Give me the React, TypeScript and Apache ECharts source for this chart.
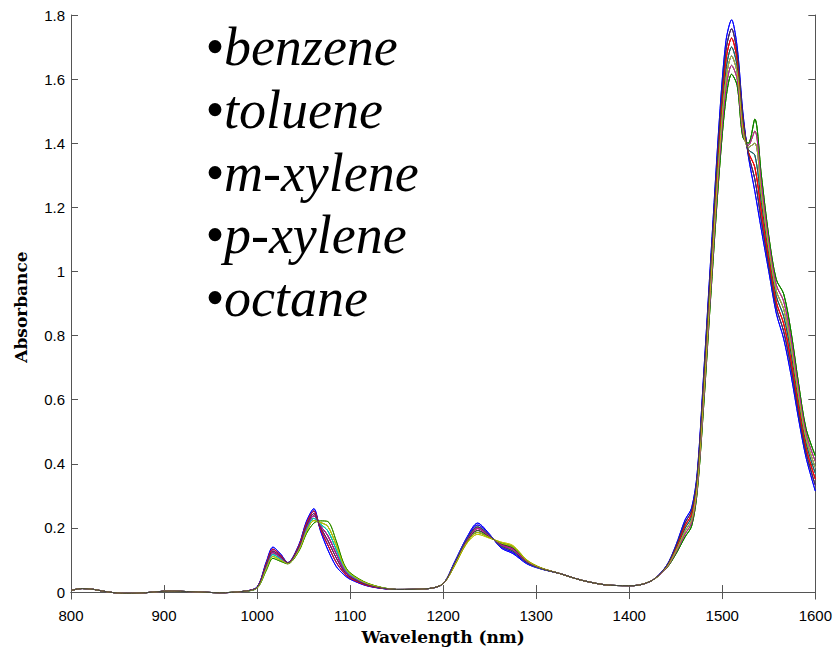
import React, { useEffect, useRef } from "react";
import * as echarts from "echarts";

// Wavelength grid (nm)
const wavelengths = [
  800, 812, 825, 840, 860, 880, 905, 930, 960, 985,
  1000, 1010, 1017, 1025, 1033, 1045, 1053, 1061, 1068, 1076, 1085, 1093, 1100, 1120,
  1150, 1185, 1200,
  1212, 1225, 1237, 1250, 1262, 1275, 1290, 1305,
  1325, 1350, 1380, 1405, 1425,
  1440, 1450, 1460, 1467, 1473, 1480, 1488, 1497, 1504, 1510, 1516, 1522, 1528, 1535,
  1542, 1550, 1558, 1566, 1574, 1582, 1590, 1600,
];

// 800–985 nm: flat baseline shared by all spectra
const baselineStart = [0.005, 0.011, 0.008, 0.0, -0.004, -0.002, 0.003, 0.001, -0.002, 0.002];

// 1000–1120 nm band, read as 7 levels from the highest-peak to the shoulder-type trace
const band1Levels = [
  [0.016, 0.095, 0.14, 0.12, 0.092, 0.148, 0.22, 0.26, 0.192, 0.132, 0.08, 0.055, 0.04, 0.018],
  [0.015, 0.09, 0.134, 0.116, 0.091, 0.145, 0.214, 0.253, 0.197, 0.147, 0.093, 0.061, 0.043, 0.019],
  [0.015, 0.086, 0.128, 0.112, 0.091, 0.141, 0.207, 0.245, 0.202, 0.161, 0.107, 0.067, 0.047, 0.021],
  [0.014, 0.082, 0.123, 0.108, 0.09, 0.138, 0.201, 0.238, 0.207, 0.176, 0.12, 0.073, 0.05, 0.022],
  [0.013, 0.077, 0.117, 0.104, 0.089, 0.135, 0.195, 0.23, 0.212, 0.191, 0.133, 0.078, 0.053, 0.023],
  [0.013, 0.073, 0.111, 0.1, 0.089, 0.131, 0.188, 0.223, 0.217, 0.205, 0.147, 0.084, 0.057, 0.025],
  [0.012, 0.068, 0.105, 0.096, 0.088, 0.128, 0.182, 0.215, 0.222, 0.22, 0.16, 0.09, 0.06, 0.026],
];

// 1150–1200 nm
const bridge1 = [0.008, 0.011, 0.026];

// 1212–1305 nm band
const band2Levels = [
  [0.092, 0.168, 0.215, 0.18, 0.138, 0.12, 0.088, 0.072],
  [0.09, 0.165, 0.209, 0.178, 0.141, 0.124, 0.09, 0.073],
  [0.088, 0.162, 0.203, 0.176, 0.144, 0.128, 0.092, 0.073],
  [0.086, 0.159, 0.198, 0.174, 0.147, 0.133, 0.094, 0.074],
  [0.084, 0.156, 0.192, 0.172, 0.15, 0.137, 0.096, 0.075],
  [0.082, 0.153, 0.186, 0.17, 0.153, 0.141, 0.098, 0.075],
  [0.08, 0.15, 0.18, 0.168, 0.156, 0.145, 0.1, 0.076],
];

// 1325–1425 nm
const bridge2 = [0.058, 0.036, 0.021, 0.02, 0.037];

// 1440–1600 nm band
const band3Levels = [
  [0.082, 0.145, 0.225, 0.262, 0.37, 0.68, 1.06, 1.48, 1.72, 1.785, 1.7, 1.5, 1.36, 1.25, 1.13, 1.0, 0.87, 0.79, 0.675, 0.54, 0.42, 0.315],
  [0.081, 0.141, 0.216, 0.253, 0.36, 0.663, 1.04, 1.453, 1.69, 1.757, 1.68, 1.487, 1.367, 1.288, 1.158, 1.018, 0.888, 0.813, 0.698, 0.558, 0.435, 0.333],
  [0.079, 0.136, 0.207, 0.243, 0.35, 0.647, 1.02, 1.427, 1.66, 1.728, 1.66, 1.473, 1.373, 1.325, 1.187, 1.037, 0.905, 0.837, 0.72, 0.577, 0.45, 0.352],
  [0.078, 0.132, 0.199, 0.234, 0.34, 0.63, 1.0, 1.4, 1.63, 1.7, 1.64, 1.46, 1.38, 1.363, 1.215, 1.055, 0.923, 0.86, 0.743, 0.595, 0.465, 0.37],
  [0.077, 0.127, 0.19, 0.224, 0.33, 0.613, 0.98, 1.373, 1.6, 1.672, 1.62, 1.447, 1.387, 1.4, 1.243, 1.073, 0.94, 0.883, 0.765, 0.613, 0.48, 0.388],
  [0.075, 0.123, 0.181, 0.215, 0.32, 0.597, 0.96, 1.347, 1.57, 1.643, 1.6, 1.433, 1.393, 1.438, 1.272, 1.092, 0.958, 0.907, 0.788, 0.632, 0.495, 0.407],
  [0.074, 0.118, 0.172, 0.205, 0.31, 0.58, 0.94, 1.32, 1.54, 1.615, 1.58, 1.42, 1.4, 1.475, 1.3, 1.11, 0.975, 0.93, 0.81, 0.65, 0.51, 0.425],
];

// Which level each spectrum shows in each band [band1, band2, band3]
const sampleBands = [
  [0, 0, 0], [4, 5, 5], [2, 3, 1], [3, 1, 3], [2, 4, 4], [6, 6, 6], [1, 2, 2],
  [1, 0, 1], [5, 4, 6], [3, 2, 2], [4, 3, 3], [2, 1, 4], [5, 6, 5], [3, 4, 3],
  [0, 1, 0], [6, 5, 6], [1, 3, 2], [4, 2, 4], [3, 3, 5], [5, 5, 4], [2, 2, 1],
];

// MATLAB (classic) colour order
const lineColors = ["#0000FF", "#008000", "#FF0000", "#00BFBF", "#BF00BF", "#BFBF00", "#404040"];

const yTicks = [0, 0.2, 0.4, 0.6, 0.8, 1, 1.2, 1.4, 1.6, 1.8];
const compounds = ["benzene", "toluene", "m-xylene", "p-xylene", "octane"];

export default function App() {
  const ref = useRef<HTMLDivElement>(null);

  useEffect(() => {
    if (!ref.current) return;
    const chart = echarts.init(ref.current, undefined, { renderer: "svg" });

    const series = sampleBands.map((b, k) => {
      const values = [
        ...baselineStart,
        ...band1Levels[b[0]],
        ...bridge1,
        ...band2Levels[b[1]],
        ...bridge2,
        ...band3Levels[b[2]],
      ];
      return {
        type: "line",
        name: "sample " + (k + 1),
        xAxisIndex: 0,
        yAxisIndex: 0,
        data: wavelengths.map((w, i) => [w, values[i]]),
        showSymbol: false,
        smooth: 0.3,
        lineStyle: { width: 1, color: lineColors[k % lineColors.length] },
        itemStyle: { color: lineColors[k % lineColors.length] },
        emphasis: { disabled: true },
        silent: true,
      };
    });

    const axisColor = "#555555";
    const labelStyle = { color: "#000", fontFamily: "Liberation Sans", fontSize: 15 };
    const titleStyle = {
      color: "#000",
      fontFamily: "DejaVu Serif",
      fontWeight: "bold" as const,
      fontSize: 17,
    };

    const graphic = compounds.map((c, i) => ({
      type: "text",
      x: 205,
      y: 47 + i * 62.8,
      style: {
        text: "\u2022" + c,
        align: "left",
        verticalAlign: "middle",
        fontFamily: "Liberation Serif",
        fontStyle: "italic",
        fontSize: 54,
        fill: "#000",
      },
    }));

    chart.setOption({
      animation: false,
      backgroundColor: "#fff",
      grid: { left: 71, right: 19, top: 15, bottom: 48, containLabel: false },
      xAxis: [
        {
          type: "value",
          position: "bottom",
          min: 800,
          max: 1600,
          interval: 100,
          axisLine: { show: true, lineStyle: { color: axisColor, width: 1 } },
          axisTick: { show: true, inside: true, length: 7, lineStyle: { color: axisColor } },
          axisLabel: { ...labelStyle, margin: 9, formatter: (v: number) => String(v) },
          splitLine: { show: false },
          name: "Wavelength (nm)",
          nameLocation: "middle",
          nameGap: 27,
          nameTextStyle: titleStyle,
        },
        {
          type: "value",
          position: "top",
          min: 800,
          max: 1600,
          interval: 100,
          axisLine: { show: true, lineStyle: { color: axisColor, width: 1 } },
          axisTick: { show: true, inside: true, length: 7, lineStyle: { color: axisColor } },
          axisLabel: { show: false },
          splitLine: { show: false },
        },
      ],
      yAxis: [
        {
          type: "value",
          position: "left",
          min: -0.022,
          max: 1.8,
          axisLine: { show: true, lineStyle: { color: axisColor, width: 1 } },
          axisTick: {
            show: true,
            inside: true,
            length: 7,
            customValues: yTicks,
            lineStyle: { color: axisColor },
          },
          axisLabel: { ...labelStyle, margin: 6, customValues: yTicks, formatter: (v: number) => String(v) },
          splitLine: { show: false },
          name: "Absorbance",
          nameLocation: "middle",
          nameGap: 42,
          nameRotate: 90,
          nameTextStyle: titleStyle,
        },
        {
          type: "value",
          position: "right",
          min: -0.022,
          max: 1.8,
          axisLine: { show: true, lineStyle: { color: axisColor, width: 1 } },
          axisTick: {
            show: true,
            inside: true,
            length: 7,
            customValues: yTicks,
            lineStyle: { color: axisColor },
          },
          axisLabel: { show: false },
          splitLine: { show: false },
        },
      ],
      series,
      graphic,
    });

    return () => chart.dispose();
  }, []);

  return (
    <div
      ref={ref}
      style={{ position: "fixed", left: 0, top: 0, width: 835, height: 650, background: "#fff" }}
    />
  );
}
